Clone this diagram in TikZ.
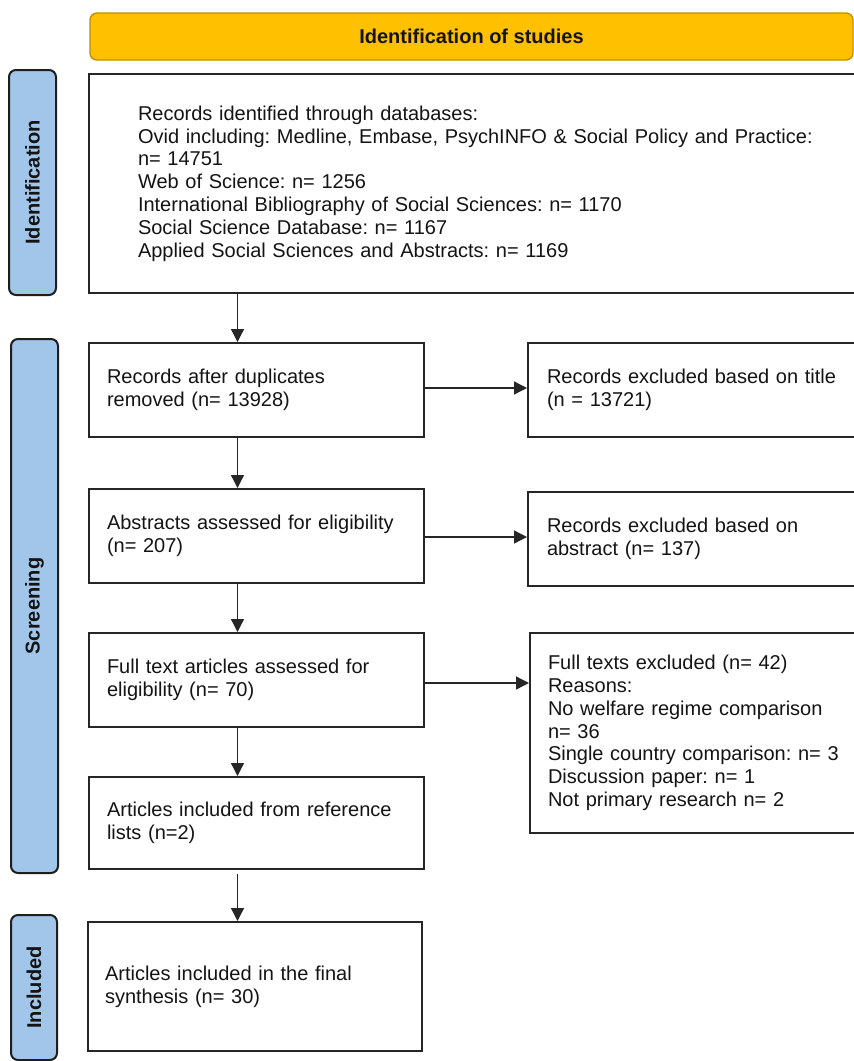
\documentclass[tikz,border=0pt]{standalone}
\usepackage{fontspec}
\setmainfont{Liberation Sans}
\usetikzlibrary{arrows.meta}
\definecolor{hdrfill}{HTML}{FFC000}
\definecolor{hdrdraw}{HTML}{BF9000}
\definecolor{sidefill}{HTML}{A2C6EA}
\definecolor{sidedraw}{HTML}{1E1E1E}
\definecolor{txt}{HTML}{141414}
\tikzset{
  every node/.style={font=\fontsize{20}{22.8}\selectfont, text=txt},
  hdr/.style={draw=hdrdraw, line width=1.4pt, fill=hdrfill, rounded corners=7pt,
    font=\fontsize{20}{22.8}\selectfont\bfseries, inner sep=0pt},
  side/.style={draw=sidedraw, line width=2pt, fill=sidefill, rounded corners=7pt,
    inner sep=0pt},
  sidelabel/.style={rotate=90, font=\fontsize{20}{22.8}\selectfont\bfseries, inner sep=0pt},
  box/.style={draw=black!85, line width=2pt, fill=white, align=left, inner ysep=0pt,
    execute at begin node={\frenchspacing\hyphenpenalty=10000\exhyphenpenalty=10000}},
  arr/.style={draw=black!85, line width=1.3pt, -{Triangle[length=13pt,width=13pt]}}
}
\begin{document}
\begin{tikzpicture}[x=1pt,y=-1pt]
\useasboundingbox (0,0) rectangle (854,1061);
\clip (0,0) rectangle (854,1061);
\fill[white] (0,0) rectangle (854,1061);

% header
\node[hdr, minimum width=763pt, minimum height=47pt] (hdr) at (471.5,36.5) {Identification of studies};

% side bars
\node[side, minimum width=47pt, minimum height=225pt] (sideid) at (32.5,182.5) {};
\node[sidelabel] (sideidl) at (sideid.center) {Identification};
\node[side, minimum width=47pt, minimum height=534pt] (sidescr) at (34.5,606) {};
\node[sidelabel] (sidescrl) at (sidescr.center) {Screening};
\node[side, minimum width=46pt, minimum height=145pt] (sideinc) at (34,987.5) {};
\node[sidelabel] (sideincl) at (sideinc.center) {Included};

% boxes
\node[box, minimum width=811pt, minimum height=219pt, text width=713pt, inner xsep=49pt] (top) at (494.5,183.5)
 {Records identified through databases:\\
  Ovid including: Medline, Embase, PsychINFO \& Social Policy and Practice:\\
  n= 14751\\
  Web of Science: n= 1256\\
  International Bibliography of Social Sciences: n= 1170\\
  Social Science Database: n= 1167\\
  Applied Social Sciences and Abstracts: n= 1169};

\node[box, minimum width=335pt, minimum height=94pt, text width=299pt, inner xsep=18pt] (dup) at (256.5,390)
 {Records after duplicates\\ removed (n= 13928)};
\node[box, minimum width=372pt, minimum height=94pt, text width=334pt, inner xsep=19pt] (title) at (714,390)
 {Records excluded based on title\\ (n = 13721)};

\node[box, minimum width=335pt, minimum height=94pt, text width=299pt, inner xsep=18pt] (abs) at (256.5,536)
 {Abstracts assessed for eligibility\\ (n= 207)};
\node[box, minimum width=372pt, minimum height=94pt, text width=334pt, inner xsep=19pt] (absex) at (714,539)
 {Records excluded based on\\ abstract (n= 137)};

\node[box, minimum width=335pt, minimum height=94pt, text width=299pt, inner xsep=18pt] (full) at (256.5,680)
 {Full text articles assessed for\\ eligibility (n= 70)};
\node[box, minimum width=370pt, minimum height=200pt, text width=334pt, inner xsep=18pt] (fullex) at (715,733)
 {Full texts excluded (n= 42)\\
  Reasons:\\
  No welfare regime comparison\\
  n= 36\\
  Single country comparison: n= 3\\
  Discussion paper: n= 1\\
  Not primary research n= 2};

\node[box, minimum width=335pt, minimum height=92pt, text width=299pt, inner xsep=18pt] (ref) at (256.5,823)
 {Articles included from reference\\ lists (n=2)};

\node[box, minimum width=334pt, minimum height=129pt, text width=300pt, inner xsep=17pt] (final) at (255,986.5)
 {Articles included in the final\\ synthesis (n= 30)};

% connectors
\coordinate (vx) at (237.5,0);
\draw[arr] (top.south -| vx) -- (dup.north -| vx);
\draw[arr] (dup.south -| vx) -- (abs.north -| vx);
\draw[arr] (abs.south -| vx) -- (full.north -| vx);
\draw[arr] (full.south -| vx) -- (ref.north -| vx);
\draw[arr, shorten <=4pt] (ref.south -| vx) -- (final.north -| vx);

\coordinate (h1) at (0,388);
\coordinate (h2) at (0,537);
\coordinate (h3) at (0,683);
\draw[arr] (dup.east |- h1) -- (title.west |- h1);
\draw[arr] (abs.east |- h2) -- (absex.west |- h2);
\draw[arr] (full.east |- h3) -- (fullex.west |- h3);
\end{tikzpicture}
\end{document}
